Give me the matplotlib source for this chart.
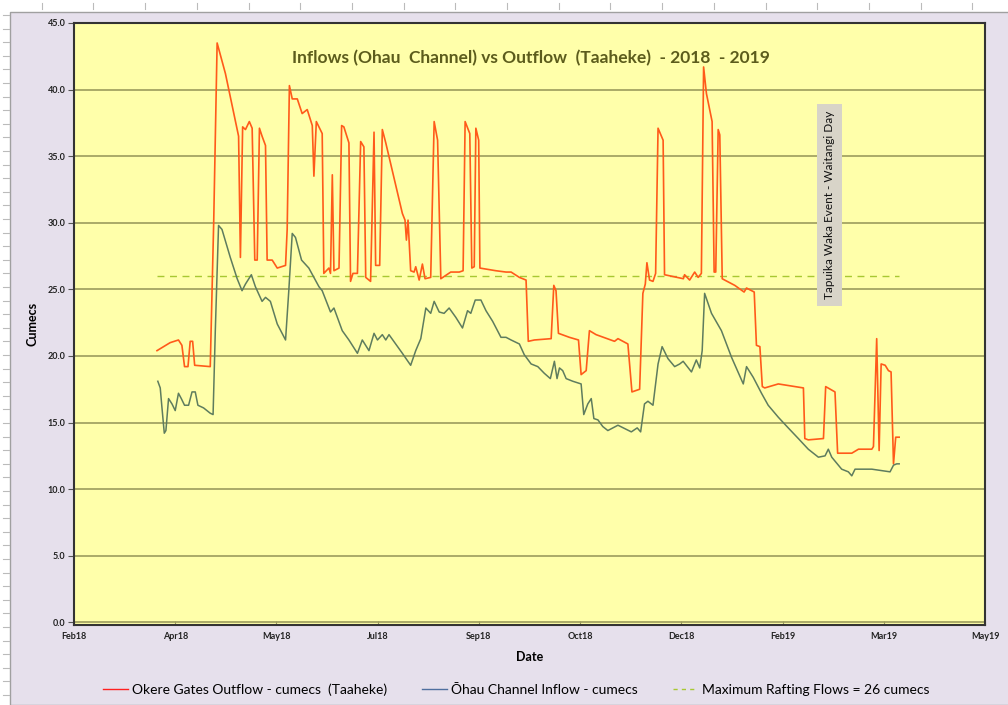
import numpy as np
import pandas as pd
import matplotlib
matplotlib.use("Agg")
import matplotlib.pyplot as plt
import matplotlib.dates as mdates
from matplotlib.lines import Line2D
from matplotlib.patches import Rectangle

plt.rcParams['font.family'] = ['Lato', 'DejaVu Sans']

# days after 1 April 2018
start = pd.Timestamp("2018-04-01")

out_days = [0, 6.5, 10.6, 12.3, 13.6, 15.3, 16.4, 17.6, 18.6, 26.3, 28.0, 29.7, 33.8, 40.3, 41.2,
            42.3, 43.7, 45.6, 47.0, 48.3, 49.5, 50.6, 51.9, 53.6, 54.4, 56.9, 59.4, 63.5, 64.3,
            65.4, 66.8, 69.3, 71.7, 74.2, 76.7, 77.5, 78.7, 81.6, 82.4, 84.9, 85.7, 86.6, 87.4,
            89.9, 91.2, 92.3, 94.8, 95.6, 96.8, 99.0, 100.6, 102.2, 103.1, 105.5, 107.2, 108.0,
            110.0, 111.3, 113.0, 121.2, 122.5, 123.2, 124.0, 125.3, 127.0, 127.8, 129.5, 131.1,
            132.4, 135.2, 136.9, 138.6, 140.2, 145.1, 149.3, 151.2, 152.2, 154.5, 155.5, 156.7,
            157.5, 158.9, 159.5, 167.4, 172.4, 174.9, 179.0, 182.3, 183.4, 186.4, 194.7, 196.0,
            197.1, 198.3, 203.7, 208.2, 209.5, 212.0, 213.6, 216.9, 226.0, 227.7, 232.6, 234.6,
            238.4, 240.0, 241.2, 242.0, 243.3, 245.0, 246.3, 247.5, 250.0, 250.7, 260.0, 260.6,
            263.1, 265.6, 267.3, 268.9, 270.0, 271.4, 273.0, 274.2, 275.2, 276.0, 277.2, 278.0,
            279.2, 280.4, 285.4, 290.0, 291.2, 295.0, 296.1, 297.8, 299.0, 300.2, 306.9, 315.1,
            319.3, 320.0, 321.7, 329.2, 330.3, 334.9, 336.2, 343.2, 346.5, 353.1, 353.9, 355.5,
            356.7, 357.7, 359.7, 361.3, 362.6, 363.8, 364.9, 366.6]
outflow = [20.4, 21.0, 21.2, 20.8, 19.2, 19.2, 21.1, 21.1, 19.3, 19.2, 30.0, 43.5, 41.2, 36.5, 27.4,
           37.2, 37.0, 37.6, 37.1, 27.2, 27.2, 37.1, 36.5, 35.8, 27.2, 27.2, 26.6, 26.8, 29.5,
           40.3, 39.3, 39.3, 38.2, 38.5, 37.3, 33.5, 37.6, 36.7, 26.2, 26.6, 26.2, 33.6, 26.4,
           26.6, 37.3, 37.2, 36.0, 25.6, 26.2, 26.2, 36.1, 35.7, 25.9, 25.6, 36.8, 26.8,
           26.8, 37.0, 36.0, 30.7, 30.2, 28.7, 30.2, 26.4, 26.3, 26.7, 25.7, 26.9,
           25.8, 25.9, 37.6, 36.2, 25.8, 26.3, 26.3, 26.4, 37.6, 36.7, 26.6, 26.7,
           37.1, 36.2, 26.6, 26.4, 26.3, 26.3, 25.9, 25.7, 21.1, 21.2, 21.3, 25.3,
           24.9, 21.7, 21.4, 21.2, 18.6, 18.9, 21.9, 21.6, 21.1, 21.3, 20.9, 17.3,
           17.5, 24.7, 25.4, 27.0, 25.7, 25.6, 26.2, 37.1, 36.2, 26.1, 25.8, 26.1,
           25.7, 26.3, 25.9, 26.2, 41.7, 39.7, 38.5, 37.6, 26.3, 26.3, 37.0, 36.6,
           25.8, 25.7, 25.3, 24.8, 25.1, 24.8, 20.8, 20.7, 17.7, 17.6, 17.9, 17.7,
           17.6, 13.8, 13.7, 13.8, 17.7, 17.3, 12.7, 12.7, 13.0, 13.0, 13.2, 21.3,
           12.9, 19.4, 19.3, 18.9, 18.8, 11.9, 13.9, 13.9]

in_days = [0.4, 1.6, 2.4, 3.6, 4.4, 5.7, 7.4, 9.0, 10.6, 12.0, 13.6, 15.6, 17.3, 18.9, 20.2, 23.0,
           26.3, 27.7, 28.8, 30.4, 32.1, 36.2, 39.6, 42.0, 43.7, 46.6, 48.6, 51.9, 53.6, 56.0,
           59.4, 63.5, 65.1, 66.8, 68.4, 71.4, 75.0, 77.5, 80.0, 81.6, 85.7, 87.4, 91.5, 94.8,
           99.0, 101.4, 104.7, 107.2, 108.9, 111.3, 113.0, 114.6, 121.2, 125.3, 127.8, 130.3,
           132.8, 135.2, 136.9, 139.4, 141.8, 144.3, 147.6, 150.9, 153.4, 155.0, 157.2, 160.0,
           162.5, 165.8, 169.9, 172.4, 174.9, 179.0, 181.4, 184.8, 188.1, 191.3, 194.3, 196.3,
           197.6, 198.8, 200.4, 202.1, 205.4, 209.5, 210.8, 212.8, 214.5, 215.8, 217.8, 220.2,
           222.7, 227.7, 234.3, 237.2, 238.9, 240.8, 242.5, 245.0, 247.5, 249.5, 252.4, 255.7,
           258.2, 259.9, 264.0, 266.4, 268.1, 269.3, 270.5, 273.9, 278.8, 283.8, 289.6, 291.2,
           294.5, 298.6, 301.9, 306.9, 311.8, 316.8, 321.7, 326.7, 330.0, 331.6, 333.3, 338.2,
           341.5, 343.2, 344.8, 353.1, 362.1, 363.8, 365.4, 366.6]
inflow = [18.1, 17.6, 16.2, 14.2, 14.4, 16.8, 16.4, 15.9, 17.2, 16.8, 16.3, 16.3, 17.3, 17.3, 16.3, 16.1,
          15.7, 15.6, 21.9, 29.8, 29.5, 27.4, 25.8, 24.9, 25.4, 26.1, 25.2, 24.1, 24.4, 24.1,
          22.4, 21.2, 24.9, 29.2, 28.9, 27.2, 26.6, 25.9, 25.2, 24.9, 23.3, 23.6, 21.9, 21.2,
          20.2, 21.2, 20.4, 21.7, 21.2, 21.6, 21.2, 21.6, 20.2, 19.3, 20.4, 21.3,
          23.6, 23.2, 24.1, 23.3, 23.2, 23.6, 22.9, 22.1, 23.4, 23.2, 24.2, 24.2,
          23.4, 22.6, 21.4, 21.4, 21.2, 20.9, 20.1, 19.4, 19.2, 18.7, 18.3, 19.6,
          18.3, 19.1, 18.9, 18.3, 18.1, 17.9, 15.6, 16.4, 16.8, 15.3, 15.2, 14.7,
          14.4, 14.8, 14.3, 14.6, 14.3, 16.4, 16.6, 16.3, 19.4, 20.7, 19.8, 19.2,
          19.4, 19.6, 18.8, 19.7, 19.1, 20.4, 24.7, 23.2, 21.9, 19.9, 17.9, 19.2,
          18.4, 17.2, 16.3, 15.4, 14.6, 13.8, 13.0, 12.4, 12.5, 13.0, 12.4, 11.5,
          11.3, 11.0, 11.5, 11.5, 11.3, 11.8, 11.9, 11.9]

rafting_limit = 26
axis_start = pd.Timestamp("2018-02-19")
tick_dates = [axis_start + pd.Timedelta(days=50 * k) for k in range(10)]

out_dates = start + pd.to_timedelta(out_days, unit="D")
in_dates = start + pd.to_timedelta(in_days, unit="D")

fig = plt.figure(figsize=(10.08, 7.05), dpi=100, facecolor="white")
# excel sheet frame
fig.add_artist(Rectangle((10 / 1008, 0), 1, 1 - 12 / 705, transform=fig.transFigure,
                         facecolor="#E6E0EC", edgecolor="#A0A0A0", lw=1, zorder=-5))
for yy in np.arange(15, 705, 13.6):
    fig.add_artist(Line2D([3 / 1008, 9 / 1008], [1 - yy / 705] * 2, color="#BBBBBB", lw=0.8, zorder=-5))
for xx in np.arange(41.7, 1008, 51.7):
    fig.add_artist(Line2D([xx / 1008] * 2, [1 - 3 / 705, 1 - 9 / 705], color="#BBBBBB", lw=0.8, zorder=-5))

ax = fig.add_axes([74 / 1008, 1 - 625 / 705, 911 / 1008, 602 / 705])
ax.set_facecolor("#FFFFAA")

ax.plot(out_dates, outflow, color="#FF5A1A", lw=1.2, zorder=3)
ax.plot(in_dates, inflow, color="#5E7C5E", lw=1.1, zorder=3)
ax.plot([out_dates[0], out_dates[-1]], [rafting_limit, rafting_limit], color="#A8C832",
        lw=1, ls=(0, (5, 4)), zorder=2)

ax.set_ylim(-0.2, 45)
ax.set_yticks(np.arange(0, 45.1, 5))
ax.yaxis.set_major_formatter(matplotlib.ticker.FormatStrFormatter("%.1f"))
ax.set_xlim(tick_dates[0], tick_dates[-1])
ax.set_xticks(tick_dates)
ax.xaxis.set_major_formatter(mdates.DateFormatter("%b%y"))
ax.grid(axis="y", color="#9C9C5C", lw=1.2)
ax.set_axisbelow(True)
for s in ax.spines.values():
    s.set_color("#333333")
    s.set_linewidth(1.5)
ax.tick_params(axis="y", direction="out", length=4, width=0.8, color="#555555",
               labelsize=6.5, labelcolor="#222222", pad=2)
ax.tick_params(axis="x", direction="in", length=3, width=0.8, color="#9C9C5C",
               labelsize=6.5, labelcolor="#222222", pad=5)
for lab in ax.get_xticklabels() + ax.get_yticklabels():
    lab.set_fontweight("bold")

ax.set_ylabel("Cumecs", fontsize=9, fontweight="bold", labelpad=7)
ax.set_xlabel("Date", fontsize=9, fontweight="bold", labelpad=7)
ax.text(0.502, 0.942, "Inflows (Ohau  Channel) vs Outflow  (Taaheke)  - 2018  - 2019",
        transform=ax.transAxes, ha="center", va="center", fontsize=12.5,
        fontweight="bold", color="#5C5C1C")

ax.text(0.829, 0.698, "Tapuika Waka Event - Waitangi Day", transform=ax.transAxes,
        rotation=90, ha="center", va="center", fontsize=8.5, color="#111111",
        bbox=dict(boxstyle="square,pad=0.6", facecolor="#D8D4C8", edgecolor="none"))

handles = [Line2D([], [], color="#FF2020", lw=1),
           Line2D([], [], color="#4F6F9F", lw=1),
           Line2D([], [], color="#A8C832", lw=1, ls=(0, (3, 3)))]
labels = ["Okere Gates Outflow - cumecs  (Taaheke)", "Ōhau Channel Inflow - cumecs",
          "Maximum Rafting Flows = 26 cumecs"]
fig.legend(handles, labels, loc="center", bbox_to_anchor=(0.512, 1 - 690 / 705), ncol=3,
           frameon=False, fontsize=10, handlelength=1.8, handletextpad=0.3,
           columnspacing=2.5)

fig.savefig("out.png", dpi=100, facecolor=fig.get_facecolor())
